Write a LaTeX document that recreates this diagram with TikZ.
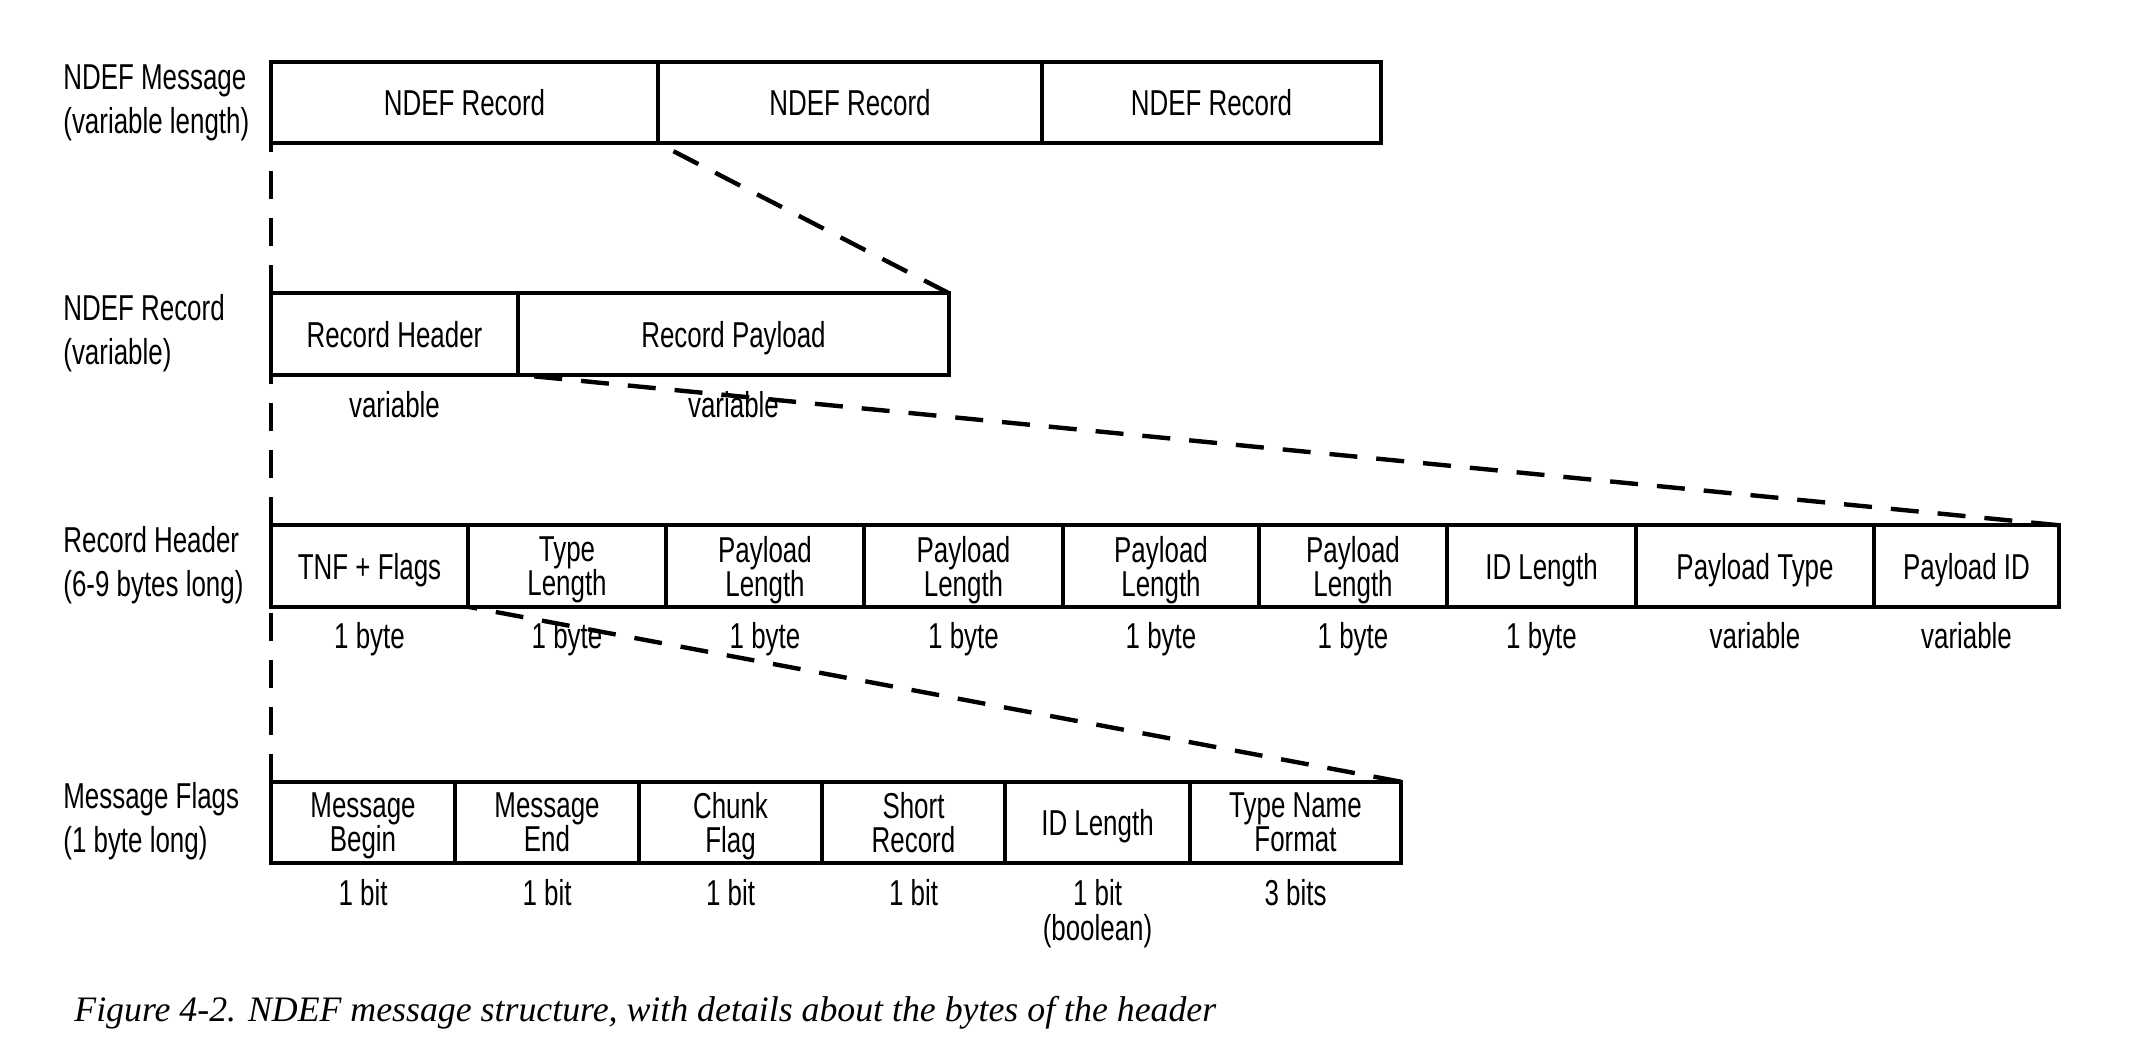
\documentclass[tikz,border=0pt]{standalone}
\usepackage{fontspec}
\setmainfont{Liberation Sans}[FakeStretch=0.72]
\newfontfamily\capfont{Liberation Serif}
\begin{document}
\begin{tikzpicture}[x=0.5pt,y=-0.5pt,
  txt/.style={font=\fontsize{18}{17}\selectfont, align=center, text=black},
  cell/.style={txt, draw, line width=2pt, inner sep=0pt, outer sep=0pt, minimum height=40.75pt, text depth=0pt, anchor=west},
  side/.style={font=\fontsize{18}{22}\selectfont, align=left, anchor=west, inner sep=0pt},
  under/.style={font=\fontsize{18}{17.5}\selectfont, align=center, anchor=base, inner sep=0pt},
  zoomline/.style={line width=2.2pt, dash pattern=on 14pt off 9.5pt}]
\useasboundingbox (0,0) rectangle (2148,1054);
% row 1
\node[cell, minimum width=193.5pt] (m1) at (271,102.5) {NDEF Record};
\node[cell, minimum width=192pt] (m2) at (m1.east) {NDEF Record};
\node[cell, minimum width=169.5pt] (m3) at (m2.east) {NDEF Record};
% row 2
\node[cell, minimum width=123.5pt] (r1) at (271,334) {Record Header};
\node[cell, minimum width=215.5pt] (r2) at (r1.east) {Record Payload};
% row 3
\node[cell, minimum width=98.5pt] (h1) at (271,566) {TNF + Flags};
\node[cell, minimum width=99pt] (h2) at (h1.east) {Type\\Length};
\node[cell, minimum width=99pt] (h3) at (h2.east) {Payload\\Length};
\node[cell, minimum width=99.5pt] (h4) at (h3.east) {Payload\\Length};
\node[cell, minimum width=98pt] (h5) at (h4.east) {Payload\\Length};
\node[cell, minimum width=94pt] (h6) at (h5.east) {Payload\\Length};
\node[cell, minimum width=94.5pt] (h7) at (h6.east) {ID Length};
\node[cell, minimum width=119pt] (h8) at (h7.east) {Payload Type};
\node[cell, minimum width=92.5pt] (h9) at (h8.east) {Payload ID};
% row 4
\node[cell, minimum width=92pt] (f1) at (271,822.5) {Message\\Begin};
\node[cell, minimum width=92pt] (f2) at (f1.east) {Message\\End};
\node[cell, minimum width=91.5pt] (f3) at (f2.east) {Chunk\\Flag};
\node[cell, minimum width=91.5pt] (f4) at (f3.east) {Short\\Record};
\node[cell, minimum width=92.5pt] (f5) at (f4.east) {ID Length};
\node[cell, minimum width=105.5pt] (f6) at (f5.east) {Type Name\\Format};
% side labels
\node[side] (l1) at (63,102.5) {NDEF Message\\(variable length)};
\node[side] (l2) at (63,333) {NDEF Record\\(variable)};
\node[side] (l3) at (63,565) {Record Header\\(6-9 bytes long)};
\node[side] (l4) at (63,821) {Message Flags\\(1 byte long)};
% under labels
\coordinate (b2) at (0,417);
\coordinate (b3) at (0,648);
\coordinate (b4) at (0,905);
\coordinate (b4b) at (0,940);
\node[under] (u21) at (r1 |- b2) {variable};
\node[under] (u22) at (r2 |- b2) {variable};
\node[under] (u31) at (h1 |- b3) {1 byte};
\node[under] (u32) at (h2 |- b3) {1 byte};
\node[under] (u33) at (h3 |- b3) {1 byte};
\node[under] (u34) at (h4 |- b3) {1 byte};
\node[under] (u35) at (h5 |- b3) {1 byte};
\node[under] (u36) at (h6 |- b3) {1 byte};
\node[under] (u37) at (h7 |- b3) {1 byte};
\node[under] (u38) at (h8 |- b3) {variable};
\node[under] (u39) at (h9 |- b3) {variable};
\node[under] (u41) at (f1 |- b4) {1 bit};
\node[under] (u42) at (f2 |- b4) {1 bit};
\node[under] (u43) at (f3 |- b4) {1 bit};
\node[under] (u44) at (f4 |- b4) {1 bit};
\node[under] (u45) at (f5 |- b4b) {1 bit\\(boolean)};
\node[under] (u46) at (f6 |- b4) {3 bits};
% zoom connectors
\draw[zoomline] (r1.north west) -- (m1.south west);
\draw[zoomline] (h1.north west) -- (r1.south west);
\draw[zoomline] (f1.north west) -- (h1.south west);
\draw[zoomline] (r2.north east) -- (m1.south east);
\draw[zoomline] (h9.north east) -- (r1.south east);
\draw[zoomline] (f6.north east) -- (h1.south east);
% caption
\node[anchor=base west, inner sep=0pt, font=\capfont\itshape\fontsize{17.9}{20}\selectfont] (cap) at (74,1021) {Figure 4-2. NDEF message structure, with details about the bytes of the header};
\end{tikzpicture}
\end{document}
